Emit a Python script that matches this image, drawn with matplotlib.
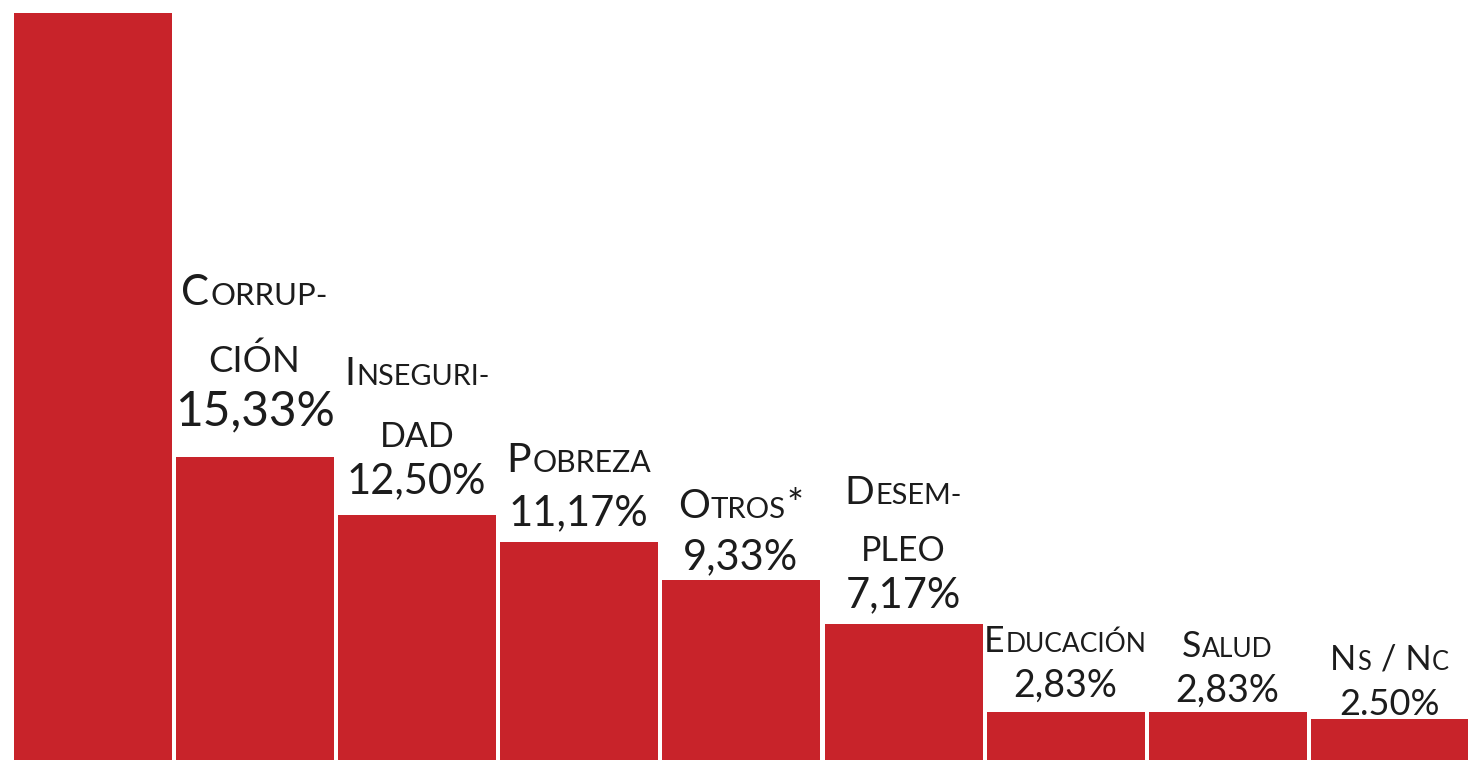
import matplotlib
matplotlib.use("Agg")
import matplotlib.pyplot as plt
import numpy as np

# datos
valores = [37.17, 15.33, 12.50, 11.17, 9.33, 7.17, 2.83, 2.83, 2.50]
nombres = [None, ["Corrup-", "ción"], ["Inseguri-", "dad"], ["Pobreza"], ["Otros*"],
           ["Desem-", "pleo"], ["Educación"], ["Salud"], ["Ns / Nc"]]
etiquetas = ["", "15,33%", "12,50%", "11,17%", "9,33%", "7,17%", "2,83%", "2,83%", "2.50%"]

# estilo de las etiquetas (pixeles / puntos)
gap_pct = [0, 32, 22, 17, 10, 16, 15, 10, 4]          # base del % sobre la barra
sep_pct = [0, 53, 46, 53, 52, 47, 45, 45, 45]          # nombre -> %
sep_lin = [0, 67, 62, 0, 0, 57, 0, 0, 0]               # linea 1 -> linea 2
size_pct = [0, 34.5, 30, 30, 30, 30, 27, 27, 26]
esc_nom = [0, 1.12, 1.04, 1.09, 1.06, 1.04, 0.95, 0.95, 0.92]
BIG, SMALL, CONT = 27, 20, 23.5

ROJO = '#C8232A'
TXT = '#1c1c1c'
FONT = 'Lato'

fig = plt.figure(figsize=(14.68, 7.6), dpi=100)
ax = fig.add_axes([0, 0, 1, 1])
x = np.arange(len(valores))
ax.bar(x, valores, width=0.975, color=ROJO)
ax.set_xlim(-0.574, 8.482)
ax.set_ylim(0.467, 37.80)
ax.axis('off')

renderer = fig.canvas.get_renderer()


def ancho(s, size):
    t = fig.text(0, 0, s, fontsize=size, family=FONT)
    w = t.get_window_extent(renderer).width
    t.remove()
    return w


def versalitas(s, esc):
    # lineas de continuacion (todo minusculas) van algo mas grandes
    small = CONT if s.islower() else SMALL
    segs = []
    for c in s:
        if c.islower() or c == '-':
            seg = [c.upper(), small * esc]
        else:
            seg = [c, BIG * esc]
        if segs and segs[-1][1] == seg[1]:
            segs[-1][0] += seg[0]
        else:
            segs.append(seg)
    return segs


def linea(i, segs, dy):
    ws = [ancho(s, size) + 1 for s, size in segs]
    x0 = -sum(ws) / 2
    for (s, size), w in zip(segs, ws):
        ax.annotate(s, xy=(i, valores[i]), xytext=(x0, dy), textcoords='offset pixels',
                    ha='left', va='baseline', fontsize=size, family=FONT, color=TXT,
                    annotation_clip=False)
        x0 += w


for i in range(1, len(valores)):
    dy = gap_pct[i]
    linea(i, [[etiquetas[i], size_pct[i]]], dy)
    dy += sep_pct[i]
    for k, nombre in enumerate(reversed(nombres[i])):
        if k > 0:
            dy += sep_lin[i]
        linea(i, versalitas(nombre, esc_nom[i]), dy)

fig.savefig('out.png', dpi=100)
